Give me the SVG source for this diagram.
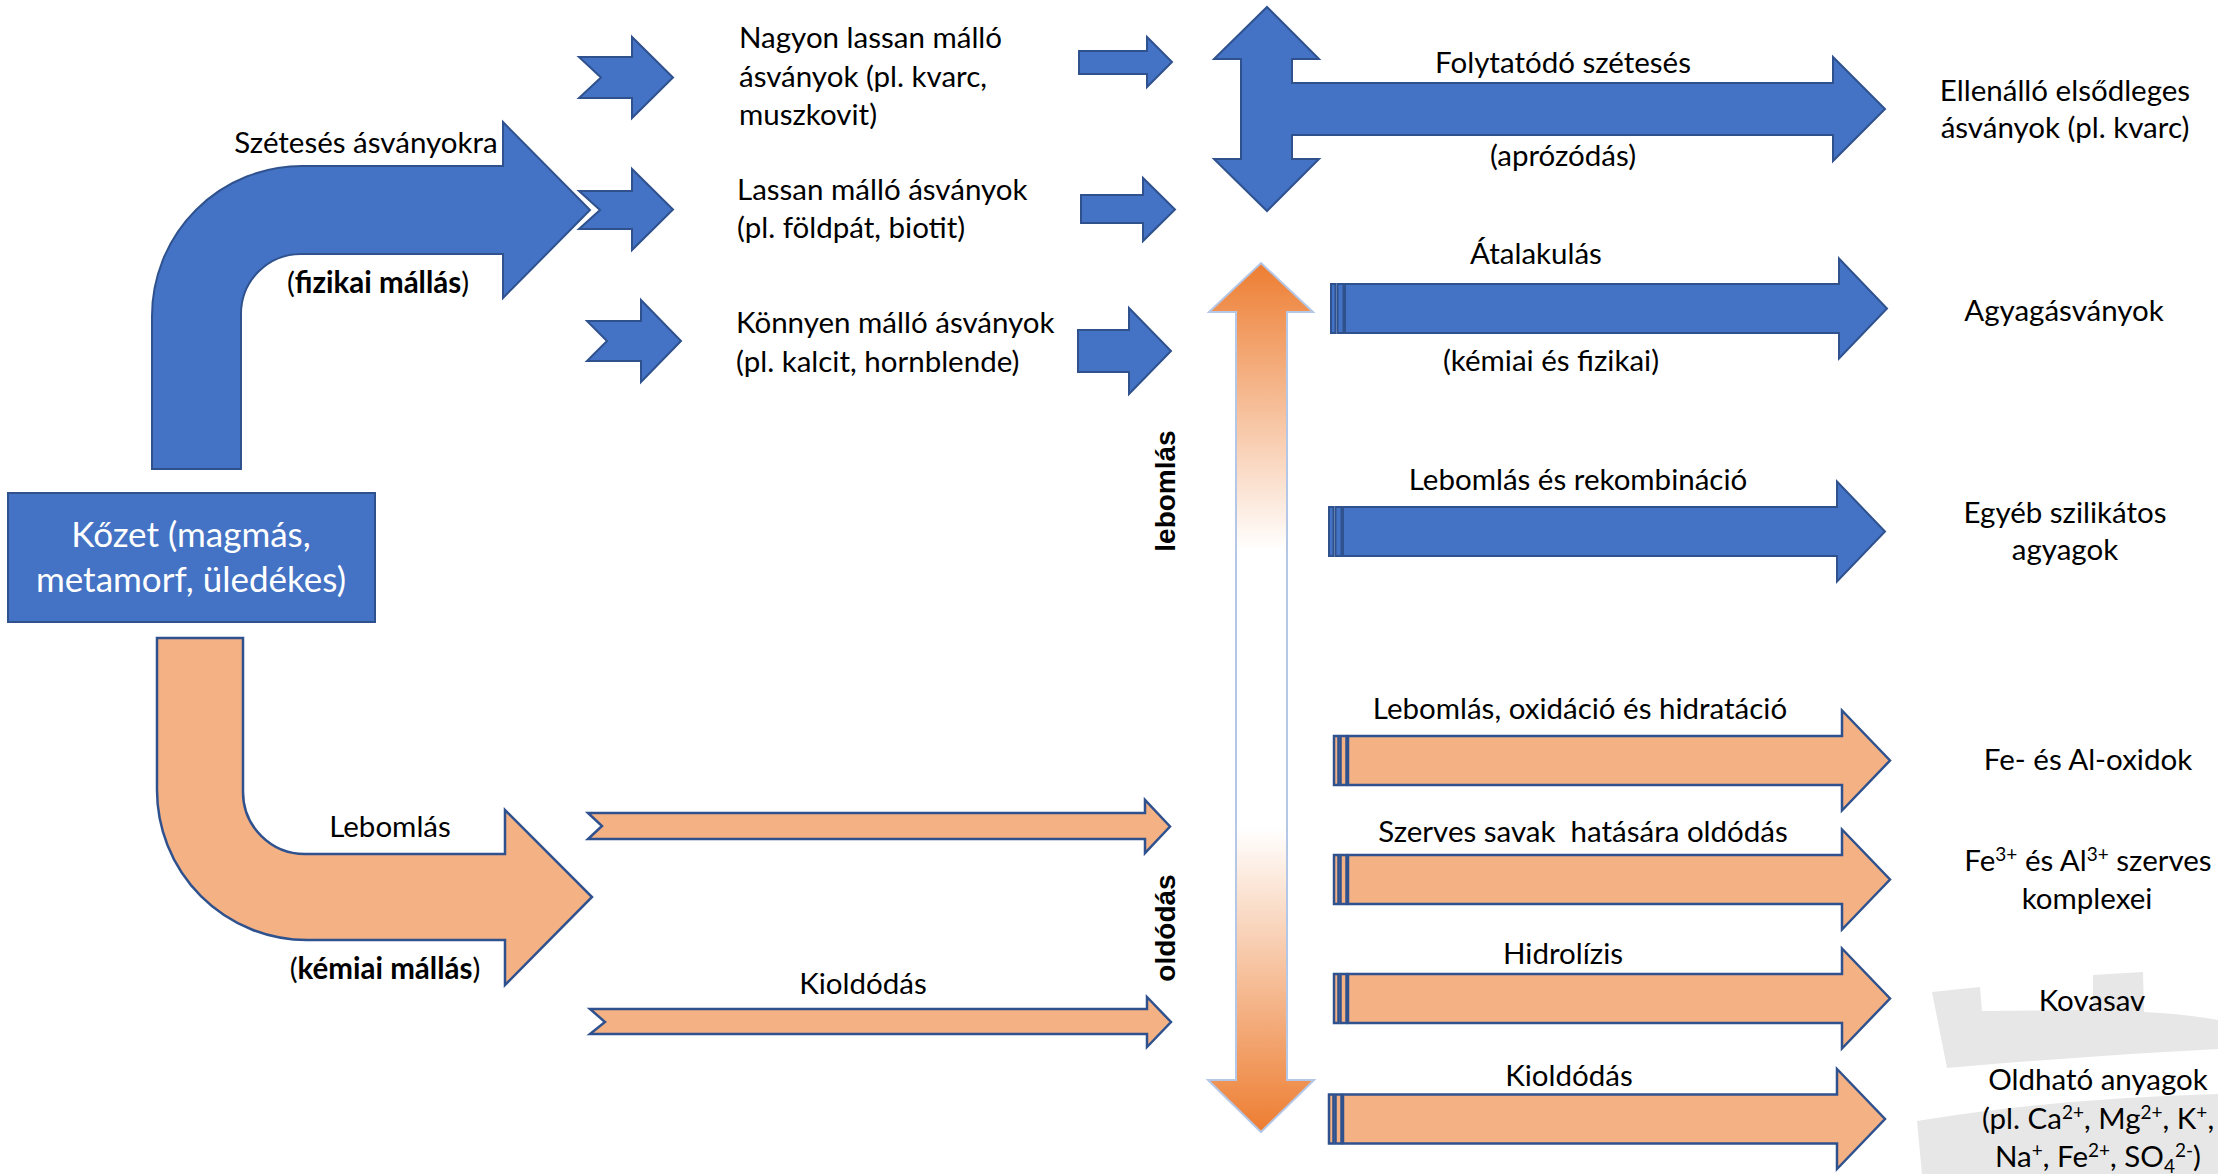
<svg xmlns="http://www.w3.org/2000/svg" xmlns:xlink="http://www.w3.org/1999/xlink" width="2218" height="1174" viewBox="0 0 2218 1174">
  <style>
    .blue { fill: #4472C4; stroke: #2F528F; stroke-width: 2; stroke-linejoin: miter; }
    .peach { fill: #F4B183; stroke: #2F528F; stroke-width: 2.5; stroke-linejoin: miter; }
    .grad { fill: url(#fade); stroke: #B4C7E7; stroke-width: 2; }
    .wm { fill: #E7E7E7; stroke: none; }
    text { font-family: Lato, "Liberation Sans", sans-serif; font-size: 29.5px; fill: #000; }
    .c { text-anchor: middle; }
    .b { font-weight: bold; }
    .box { font-size: 35px; fill: #fff; }
    .rot { font-family: "Liberation Sans", Arial, sans-serif; font-weight: bold; font-size: 28px; text-anchor: middle; }
    .pre { white-space: pre; }
  </style>
  <defs>
    <linearGradient id="fade" gradientUnits="userSpaceOnUse" x1="0" y1="263" x2="0" y2="1132">
      <stop offset="0" stop-color="#ED7D31"/>
      <stop offset="0.33" stop-color="#FFFFFF"/>
      <stop offset="0.65" stop-color="#FFFFFF"/>
      <stop offset="1" stop-color="#ED7D31"/>
    </linearGradient>
    <!-- striped right arrow, origin at left end of the shaft centre line -->
    <g id="striped">
      <rect x="0" y="-24.5" width="4.5" height="49"/>
      <rect x="6.5" y="-24.5" width="6" height="49"/>
      <path d="M14,-24.5 L508,-24.5 L508,-50 L556,0 L508,50 L508,24.5 L14,24.5 Z"/>
    </g>
  </defs>

  <!-- background watermark fragments -->
  <g id="watermark">
    <path class="wm" d="M1932,992 L1980,987 L1982,1011 L2093,1010 L2093,975 L2143,972 L2144,1012 Q2185,1014 2218,1020 L2218,1049 Q2080,1056 1947,1068 Z"/>
    <path class="wm" d="M1917,1121 Q2060,1098 2218,1094 L2218,1174 L1922,1174 Z"/>
  </g>

  <g id="connectors">
    <!-- physical weathering: bent blue arrow -->
    <path class="blue" d="M152,469 L152,316 A150,150 0 0 1 302,166 L503,166 L503,122 L590,210 L503,298 L503,254 L301,254 A60,60 0 0 0 241,314 L241,469 Z"/>
    <!-- chemical weathering: bent peach arrow -->
    <path class="peach" d="M157,638 L243,638 L243,792 A62,62 0 0 0 305,854 L505,854 L505,810 L592,897 L505,985 L505,940 L307,940 A150,150 0 0 1 157,790 Z"/>

    <!-- notched arrows towards the mineral groups -->
    <path class="blue" d="M579,57 L632,57 L632,37 L673,77.5 L632,118 L632,98 L579,98 L601,77.5 Z"/>
    <path class="blue" d="M579,191 L632,191 L632,169 L673,209.5 L632,250 L632,229 L579,229 L600,210 Z"/>
    <path class="blue" d="M587,321 L641,321 L641,300 L681,341 L641,382 L641,361 L587,361 L607,341 Z"/>

    <!-- plain arrows out of the mineral groups -->
    <path class="blue" d="M1079,51 L1147,51 L1147,37 L1172,62 L1147,87 L1147,74 L1079,74 Z"/>
    <path class="blue" d="M1081,195 L1143,195 L1143,178 L1175,209.5 L1143,241 L1143,223 L1081,223 Z"/>
    <path class="blue" d="M1078,330 L1129,330 L1129,308 L1171,351 L1129,394 L1129,372 L1078,372 Z"/>

    <!-- thin peach notched arrows -->
    <path class="peach" d="M588,813 L1145,813 L1145,800 L1170,826.5 L1145,853 L1145,839 L588,839 L602,826 Z"/>
    <path class="peach" d="M590,1009 L1147,1009 L1147,997 L1171,1022 L1147,1047 L1147,1034 L590,1034 L605,1022 Z"/>

    <!-- up / down / right arrow: continued disintegration -->
    <path class="blue" d="M1267,7 L1319,59 L1292,59 L1292,83 L1833,83 L1833,57 L1885,109 L1833,161 L1833,135 L1292,135 L1292,159 L1319,159 L1267,211 L1214,159 L1241,159 L1241,59 L1214,59 Z"/>

    <!-- decomposition / dissolution double arrow -->
    <path class="grad" d="M1261,263 L1313,312 L1287,312 L1287,1080 L1314,1080 L1261,1132 L1208,1080 L1236,1080 L1236,312 L1209,312 Z"/>

    <!-- striped process arrows -->
    <use xlink:href="#striped" class="blue" transform="translate(1331,308.5)"/>
    <use xlink:href="#striped" class="blue" transform="translate(1329,531.5)"/>
    <use xlink:href="#striped" class="peach" transform="translate(1334,760.5)"/>
    <use xlink:href="#striped" class="peach" transform="translate(1334,879.5)"/>
    <use xlink:href="#striped" class="peach" transform="translate(1334,998.5)"/>
    <use xlink:href="#striped" class="peach" transform="translate(1329,1119)"/>
  </g>

  <g id="rock">
    <rect class="blue" x="8" y="493" width="367" height="129"/>
    <text class="box c" x="191" y="547">Kőzet (magmás,</text>
    <text class="box c" x="191" y="592">metamorf, üledékes)</text>
  </g>

  <g id="physical-label">
    <text class="c" x="366" y="153">Szétesés ásványokra</text>
    <text class="c" x="378" y="293">(<tspan class="b">fizikai mállás</tspan>)</text>
  </g>

  <g id="chemical-label">
    <text class="c" x="390" y="837">Lebomlás</text>
    <text class="c" x="385" y="979">(<tspan class="b">kémiai mállás</tspan>)</text>
  </g>

  <g id="very-slow">
    <text x="739" y="48">Nagyon lassan málló</text>
    <text x="739" y="87">ásványok (pl. kvarc,</text>
    <text x="739" y="125">muszkovit)</text>
  </g>

  <g id="slow">
    <text x="737" y="200">Lassan málló ásványok</text>
    <text x="737" y="238">(pl. földpát, biotit)</text>
  </g>

  <g id="easy">
    <text x="736" y="333">Könnyen málló ásványok</text>
    <text x="736" y="372">(pl. kalcit, hornblende)</text>
  </g>

  <g id="leaching-left">
    <text class="c" x="863" y="994">Kioldódás</text>
  </g>

  <g id="axis-labels">
    <text class="rot" transform="translate(1175,491) rotate(-90)">lebomlás</text>
    <text class="rot" transform="translate(1175,928) rotate(-90)">oldódás</text>
  </g>

  <g id="process-labels">
    <text class="c" x="1563" y="73">Folytatódó szétesés</text>
    <text class="c" x="1563" y="166">(aprózódás)</text>
    <text class="c" x="1536" y="264">Átalakulás</text>
    <text class="c" x="1551" y="371">(kémiai és fizikai)</text>
    <text class="c" x="1578" y="490">Lebomlás és rekombináció</text>
    <text class="c" x="1580" y="719">Lebomlás, oxidáció és hidratáció</text>
    <text class="c pre" x="1583" y="842">Szerves savak  hatására oldódás</text>
    <text class="c" x="1563" y="964">Hidrolízis</text>
    <text class="c" x="1569" y="1086">Kioldódás</text>
  </g>

  <g id="resistant">
    <text class="c" x="2065" y="101">Ellenálló elsődleges</text>
    <text class="c" x="2065" y="138">ásványok (pl. kvarc)</text>
  </g>
  <g id="clay-minerals">
    <text class="c" x="2064" y="321">Agyagásványok</text>
  </g>
  <g id="silicate-clays">
    <text class="c" x="2065" y="523">Egyéb szilikátos</text>
    <text class="c" x="2065" y="560">agyagok</text>
  </g>
  <g id="oxides">
    <text class="c" x="2088" y="770">Fe- és Al-oxidok</text>
  </g>
  <g id="complexes">
    <text class="c" x="2088" y="871">Fe<tspan font-size="19" dy="-10">3+</tspan><tspan dy="10"> és Al</tspan><tspan font-size="19" dy="-10">3+</tspan><tspan dy="10"> szerves</tspan></text>
    <text class="c" x="2087" y="909">komplexei</text>
  </g>
  <g id="silicic-acid">
    <text class="c" x="2092" y="1011">Kovasav</text>
  </g>
  <g id="soluble">
    <text class="c" x="2098" y="1090">Oldható anyagok</text>
    <text class="c" x="2098" y="1129">(pl. Ca<tspan font-size="19" dy="-10">2+</tspan><tspan dy="10">, Mg</tspan><tspan font-size="19" dy="-10">2+</tspan><tspan dy="10">, K</tspan><tspan font-size="19" dy="-10">+</tspan><tspan dy="10">,</tspan></text>
    <text class="c" x="2098" y="1167">Na<tspan font-size="19" dy="-10">+</tspan><tspan dy="10">, Fe</tspan><tspan font-size="19" dy="-10">2+</tspan><tspan dy="10">, SO</tspan><tspan font-size="19" dy="6">4</tspan><tspan font-size="19" dy="-16">2-</tspan><tspan dy="10">)</tspan></text>
  </g>
</svg>
